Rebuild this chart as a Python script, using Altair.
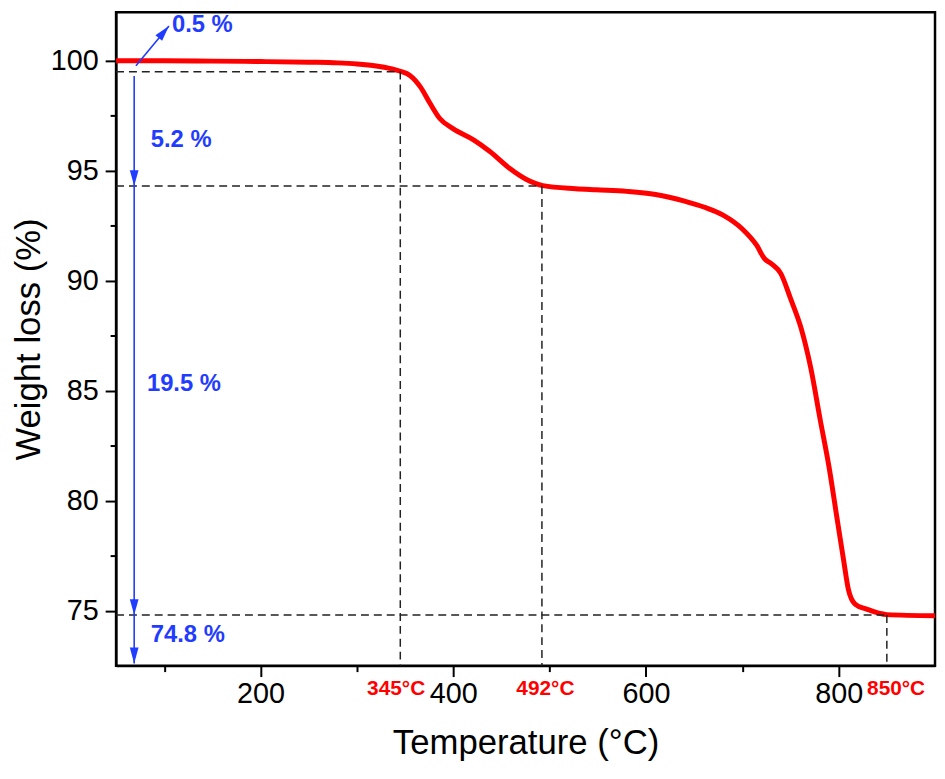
import altair as alt
import pandas as pd

# ---- data ----
temperature = [50, 100, 150, 200, 250, 280, 300, 320, 335, 345, 355, 366, 376, 386, 400,
               421, 438, 458, 476, 493, 527, 548, 580, 610, 640, 660, 680, 700, 715, 723,
               730, 740, 750, 761, 771, 781, 790, 798, 805, 810, 817, 829, 850, 900]
weight = [100.0, 100.0, 99.98, 99.96, 99.93, 99.9, 99.85, 99.76, 99.64, 99.52, 99.33, 98.8,
          98.05, 97.37, 96.9, 96.4, 95.87, 95.12, 94.6, 94.32, 94.18, 94.13, 94.06, 93.92,
          93.62, 93.35, 92.98, 92.35, 91.6, 91.0, 90.77, 90.32, 89.19, 87.84, 86.04, 83.64,
          81.53, 79.28, 77.33, 75.98, 75.3, 75.07, 74.82, 74.77]

x_ticks = [100, 200, 300, 400, 500, 600, 700, 800]
y_ticks = [75, 77.5, 80, 82.5, 85, 87.5, 90, 92.5, 95, 97.5, 100]

guide_x = [50, 345, 50, 492, 50, 850]
guide_y = [99.5, 99.5, 94.3, 94.3, 74.8, 74.8]
guide_x2 = [345, 345, 492, 492, 850, 850]
guide_y2 = [99.5, 72.5, 94.3, 72.5, 74.8, 72.5]

shaft_x = [70.6, 68.8]
shaft_y = [99.77, 99.3]
shaft_x2 = [104.9, 68.8]
shaft_y2 = [101.58, 72.6]

head_x = [104.9, 68.8, 68.8, 68.8]
head_y = [101.58, 94.3, 74.8, 72.6]
head_angle = [220, 0, 0, 0]

loss_text = ["0.5 %", "5.2 %", "19.5 %", "74.8 %"]
loss_x = [108, 86, 82, 86]
loss_y = [101.6, 96.4, 85.3, 73.9]

temp_text = ["345°C", "492°C", "850°C"]
temp_x = [340.7, 495.6, 859.6]
temp_y = [71.45, 71.45, 71.45]

# ---- tables ----
curve_df = pd.DataFrame({"T": temperature, "W": weight})
guide_df = pd.DataFrame({"x": guide_x, "y": guide_y, "x2": guide_x2, "y2": guide_y2})
shaft_df = pd.DataFrame({"x": shaft_x, "y": shaft_y, "x2": shaft_x2, "y2": shaft_y2})
head_df = pd.DataFrame({"x": head_x, "y": head_y, "a": head_angle})
loss_df = pd.DataFrame({"x": loss_x, "y": loss_y, "t": loss_text})
temp_df = pd.DataFrame({"x": temp_x, "y": temp_y, "t": temp_text})

FONT = "Liberation Sans, Arial"
BLUE = "#1f3cff"
RED = "#ff0000"

x_scale = alt.Scale(domain=[50, 900], nice=False, zero=False)
y_scale = alt.Scale(domain=[72.5, 102.2], nice=False, zero=False)

x_axis = alt.Axis(
    values=x_ticks,
    labelExpr="datum.value % 200 == 0 ? datum.label : ''",
    tickSize={"condition": {"test": "datum.value % 200 == 0", "value": 11}, "value": 6},
    title="Temperature (°C)",
    labelFont=FONT, labelFontSize=29, labelPadding=3, labelOverlap=False,
    titleFont=FONT, titleFontSize=35, titleFontWeight="normal", titlePadding=18,
    grid=False,
)
y_axis = alt.Axis(
    values=y_ticks,
    labelExpr="datum.value % 5 == 0 ? datum.label : ''",
    tickSize={"condition": {"test": "datum.value % 5 == 0", "value": 11}, "value": 6},
    title="Weight loss (%)",
    labelFont=FONT, labelFontSize=29, labelPadding=7, labelOverlap=False,
    titleFont=FONT, titleFontSize=35, titleFontWeight="normal", titlePadding=4,
    grid=False,
)

curve = alt.Chart(curve_df).mark_line(
    color=RED, strokeWidth=5, interpolate="monotone"
).encode(
    x=alt.X("T:Q", scale=x_scale, axis=x_axis),
    y=alt.Y("W:Q", scale=y_scale, axis=y_axis),
)

guides = alt.Chart(guide_df).mark_rule(
    color="#222222", strokeWidth=1.5, strokeDash=[8, 5]
).encode(
    x=alt.X("x:Q", scale=x_scale), y=alt.Y("y:Q", scale=y_scale),
    x2="x2:Q", y2="y2:Q",
)

shafts = alt.Chart(shaft_df).mark_rule(color=BLUE, strokeWidth=1.6).encode(
    x=alt.X("x:Q", scale=x_scale), y=alt.Y("y:Q", scale=y_scale),
    x2="x2:Q", y2="y2:Q",
)

heads = alt.Chart(head_df).mark_point(
    shape="M0,0 L-0.55,-2 L0.55,-2 Z", filled=True, color=BLUE, opacity=1, size=256,
    strokeWidth=0,
).encode(
    x=alt.X("x:Q", scale=x_scale), y=alt.Y("y:Q", scale=y_scale),
    angle=alt.Angle("a:Q", scale=None),
)

loss_labels = alt.Chart(loss_df).mark_text(
    align="left", baseline="middle", color=BLUE, font=FONT,
    fontWeight="bold", fontSize=24,
).encode(
    x=alt.X("x:Q", scale=x_scale), y=alt.Y("y:Q", scale=y_scale), text="t:N",
)

temp_labels = alt.Chart(temp_df).mark_text(
    align="center", baseline="middle", color=RED, font=FONT,
    fontWeight="bold", fontSize=21,
).encode(
    x=alt.X("x:Q", scale=x_scale), y=alt.Y("y:Q", scale=y_scale), text="t:N",
)

chart = alt.layer(curve, guides, shafts, heads, loss_labels, temp_labels).properties(
    width=826, height=659,
    autosize=alt.AutoSizeParams(type="none"),
    padding={"left": 109, "top": 1, "right": 2, "bottom": 110},
).configure_view(
    stroke="black", strokeWidth=2.5
).configure_axis(
    domainColor="black", domainWidth=2, tickColor="black", tickWidth=2,
    labelColor="black", titleColor="black",
)

chart.save("out.html", embed_options={"renderer": "svg", "actions": False})
